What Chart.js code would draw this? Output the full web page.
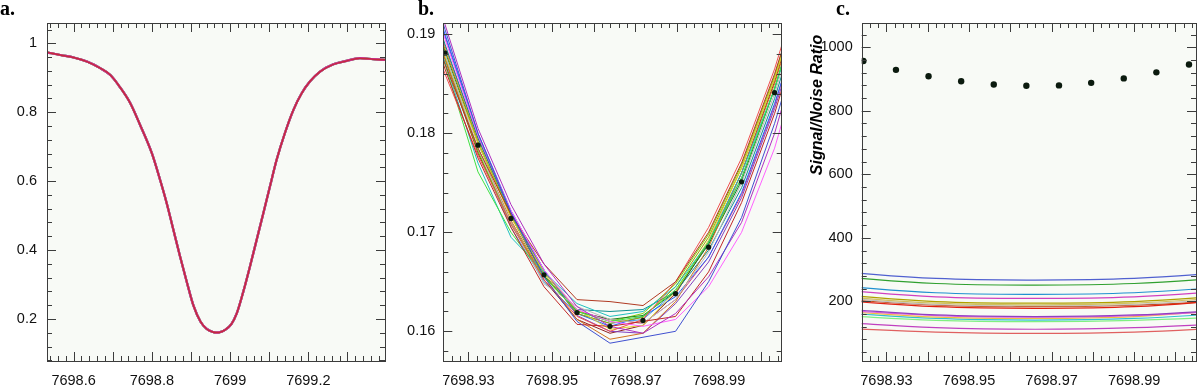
<!DOCTYPE html>
<html>
<head>
<meta charset="utf-8">
<script src="https://cdn.jsdelivr.net/npm/chart.js@4.4.0/dist/chart.umd.min.js"></script>
<style>
  html, body { margin: 0; padding: 0; background: #fff; }
  #wrap { position: relative; width: 1200px; height: 387px; overflow: hidden; }
  .panel { position: absolute; top: 0; width: 400px; height: 387px; }
  .tag { position: absolute; top: -2px; font: bold 20px "Liberation Serif", serif; line-height: 20px; color: #000; }
</style>
</head>
<body>
<div id="wrap">
  <div class="panel" style="left:0"><canvas id="chartA" width="400" height="387"></canvas></div>
  <div class="panel" style="left:400px"><canvas id="chartB" width="400" height="387"></canvas></div>
  <div class="panel" style="left:800px"><canvas id="chartC" width="400" height="387"></canvas></div>
  <div class="tag" style="left:0">a.</div>
  <div class="tag" style="left:418px">b.</div>
  <div class="tag" style="left:836px">c.</div>
</div>
<script>
// ---- panel a: full line profile ----
const waveA = [7698.532, 7698.566, 7698.600, 7698.634, 7698.668, 7698.694, 7698.719, 7698.745, 7698.770, 7698.800,
               7698.821, 7698.838, 7698.855, 7698.872, 7698.889, 7698.906, 7698.9245, 7698.9402, 7698.9560, 7698.9639,
               7698.9718, 7698.9875, 7699.0033, 7699.017, 7699.034, 7699.051, 7699.068, 7699.085, 7699.102, 7699.119,
               7699.140, 7699.162, 7699.183, 7699.204, 7699.230, 7699.264, 7699.298, 7699.332, 7699.366, 7699.396];
const fluxA = [0.974, 0.966, 0.959, 0.947, 0.928, 0.908, 0.872, 0.826, 0.763, 0.681,
               0.604, 0.536, 0.459, 0.382, 0.309, 0.240, 0.192, 0.171, 0.162, 0.1605,
               0.161, 0.1685, 0.185, 0.216, 0.280, 0.353, 0.430, 0.507, 0.585, 0.662,
               0.739, 0.807, 0.855, 0.889, 0.918, 0.939, 0.949, 0.957, 0.954, 0.952];
const colorsA = ['#c42a3a', '#d030d0', '#e0a020', '#2fa040', '#3050e0'];
const xTicksA = [7698.6, 7698.8, 7699, 7699.2];
const yTicksA = [0.2, 0.4, 0.6, 0.8, 1];

// ---- panel b: core of the line, one curve per exposure ----
const waveB = [7698.9165, 7698.9244, 7698.9323, 7698.9402, 7698.9481, 7698.9560, 7698.9639,
               7698.9718, 7698.9796, 7698.9875, 7698.9954, 7699.0033, 7699.0112];
const fluxB = [
  [0.2010, 0.1905, 0.1800, 0.1720, 0.1655, 0.1610, 0.1588, 0.1594, 0.1600, 0.1650, 0.1715, 0.1810, 0.1920],
  [0.2015, 0.1910, 0.1805, 0.1728, 0.1668, 0.1625, 0.1605, 0.1598, 0.1618, 0.1655, 0.1710, 0.1800, 0.1915],
  [0.2000, 0.1895, 0.1798, 0.1722, 0.1662, 0.1622, 0.1610, 0.1605, 0.1612, 0.1645, 0.1700, 0.1785, 0.1900],
  [0.1960, 0.1870, 0.1785, 0.1718, 0.1668, 0.1632, 0.1630, 0.1626, 0.1650, 0.1700, 0.1770, 0.1860, 0.1965],
  [0.1970, 0.1865, 0.1775, 0.1705, 0.1645, 0.1607, 0.1605, 0.1610, 0.1615, 0.1660, 0.1730, 0.1820, 0.1930],
  [0.1950, 0.1860, 0.1778, 0.1708, 0.1652, 0.1615, 0.1600, 0.1612, 0.1650, 0.1705, 0.1775, 0.1865, 0.1975],
  [0.1955, 0.1870, 0.1761, 0.1700, 0.1655, 0.1620, 0.1610, 0.1615, 0.1642, 0.1690, 0.1755, 0.1845, 0.1955],
  [0.1960, 0.1872, 0.1770, 0.1695, 0.1660, 0.1628, 0.1615, 0.1620, 0.1645, 0.1690, 0.1760, 0.1845, 0.1950],
  [0.1980, 0.1880, 0.1785, 0.1710, 0.1648, 0.1625, 0.1612, 0.1608, 0.1632, 0.1680, 0.1750, 0.1840, 0.1950],
  [0.1965, 0.1875, 0.1785, 0.1712, 0.1655, 0.1612, 0.1592, 0.1598, 0.1630, 0.1685, 0.1760, 0.1850, 0.1960],
  [0.1975, 0.1878, 0.1790, 0.1715, 0.1660, 0.1622, 0.1602, 0.1606, 0.1640, 0.1692, 0.1765, 0.1855, 0.1965],
  [0.1990, 0.1885, 0.1792, 0.1716, 0.1658, 0.1618, 0.1608, 0.1614, 0.1645, 0.1695, 0.1765, 0.1855, 0.1962],
  [0.1985, 0.1883, 0.1790, 0.1716, 0.1656, 0.1620, 0.1612, 0.1616, 0.1640, 0.1688, 0.1752, 0.1845, 0.1955],
  [0.1995, 0.1890, 0.1795, 0.1718, 0.1660, 0.1622, 0.1620, 0.1622, 0.1640, 0.1682, 0.1745, 0.1835, 0.1945],
  [0.2005, 0.1900, 0.1800, 0.1722, 0.1662, 0.1618, 0.1605, 0.1615, 0.1635, 0.1675, 0.1740, 0.1830, 0.1935],
  [0.2000, 0.1898, 0.1798, 0.1720, 0.1662, 0.1616, 0.1600, 0.1598, 0.1628, 0.1670, 0.1735, 0.1825, 0.1930],
  [0.1970, 0.1876, 0.1782, 0.1708, 0.1655, 0.1621, 0.1610, 0.1618, 0.1648, 0.1698, 0.1768, 0.1858, 0.1968],
  [0.1990, 0.1888, 0.1795, 0.1720, 0.1660, 0.1620, 0.1612, 0.1608, 0.1632, 0.1675, 0.1738, 0.1828, 0.1940],
  [0.1975, 0.1875, 0.1780, 0.1710, 0.1652, 0.1612, 0.1598, 0.1606, 0.1638, 0.1690, 0.1760, 0.1852, 0.1962],
  [0.1980, 0.1880, 0.1782, 0.1705, 0.1650, 0.1618, 0.1608, 0.1612, 0.1640, 0.1688, 0.1755, 0.1845, 0.1955]
];
const colorsB = ['#4050d0', '#b030c0', '#ff60ff', '#b03a22', '#c02828', '#f05050', '#40e040', '#20c0c0',
                 '#b8b8b8', '#d07020', '#e0d030', '#a0a000', '#208020', '#109090', '#2060ff', '#8040c0',
                 '#80d000', '#e04080', '#902020', '#40a0e0'];
// mean spectrum (black dots)
const waveMean = [7698.9244, 7698.9323, 7698.9402, 7698.9481, 7698.9560, 7698.9639,
                  7698.9718, 7698.9796, 7698.9875, 7698.9954, 7699.0033];
const fluxMean = [0.1881, 0.1788, 0.1714, 0.1657, 0.1619, 0.1605, 0.1611, 0.1638, 0.1685, 0.1751, 0.1841];
const xTicksB = [7698.93, 7698.95, 7698.97, 7698.99];
const yTicksB = [0.16, 0.17, 0.18, 0.19];

// ---- panel c: signal/noise ----
const waveSN = [7698.918, 7698.942, 7698.966, 7698.990, 7699.014];
const snLines = [
  [294, 272, 267, 272, 292],
  [278, 256, 251, 256, 276],
  [249, 227, 222, 227, 247],
  [236, 214, 209, 214, 234],
  [221, 199, 194, 199, 219],
  [216, 194, 189, 194, 214],
  [212, 190, 186, 190, 210],
  [203, 183, 178, 183, 205],
  [207, 188, 183, 188, 203],
  [177, 157, 152, 157, 174],
  [173, 155, 150, 155, 171],
  [170, 150, 146, 152, 174],
  [165, 146, 141, 146, 163],
  [156, 140, 136, 140, 152],
  [134, 117, 112, 117, 131],
  [116, 103, 99, 103, 118]
];
const colorsC = ['#5060d0', '#30a030', '#2090d0', '#d040c0', '#b0a000', '#d0c060', '#c0c0c0', '#e02010',
                 '#c05020', '#9040c0', '#e060e0', '#f0c040', '#30c0d0', '#80f080', '#c040c0', '#e06060'];
const snMean = [957, 929, 909, 893, 883, 879, 880, 888, 902, 921, 946];
const xTicksC = [7698.93, 7698.95, 7698.97, 7698.99];
const yTicksC = [200, 400, 600, 800, 1000];

// ---------------------------------------------
const TICK_FONT = { family: '"Liberation Sans", Arial, sans-serif', size: 14.5 };

function pts(xs, ys) {
  return xs.map((x, i) => ({ x: x, y: ys[i] }));
}

function tickMarks(scale, step) {
  const out = [];
  const k0 = Math.ceil(scale.min / step - 1e-6);
  const k1 = Math.floor(scale.max / step + 1e-6);
  for (let k = k0; k <= k1; k++) out.push([k * step, k % 5 === 0]);
  return out;
}

// plot background, frame and inward ticks on all four sides
const framePlugin = {
  id: 'frame',
  beforeDraw(chart) {
    const { ctx, chartArea: a } = chart;
    ctx.save();
    ctx.fillStyle = '#f8faf6';
    ctx.fillRect(a.left, a.top, a.right - a.left, a.bottom - a.top);
    ctx.restore();
  },
  afterDraw(chart, args, opts) {
    const { ctx, chartArea: a, scales } = chart;
    ctx.save();
    ctx.strokeStyle = '#3c3c3c';
    ctx.lineWidth = 1;
    ctx.beginPath();
    tickMarks(scales.x, opts.xMinor).forEach(([v, long]) => {
      const p = Math.round(scales.x.getPixelForValue(v)) + 0.5;
      const len = long ? 9 : 5;
      ctx.moveTo(p, a.bottom); ctx.lineTo(p, a.bottom - len);
      ctx.moveTo(p, a.top); ctx.lineTo(p, a.top + len);
    });
    tickMarks(scales.y, opts.yMinor).forEach(([v, long]) => {
      const p = Math.round(scales.y.getPixelForValue(v)) + 0.5;
      const len = long ? 9 : 5;
      ctx.moveTo(a.left, p); ctx.lineTo(a.left + len, p);
      ctx.moveTo(a.right, p); ctx.lineTo(a.right - len, p);
    });
    ctx.stroke();
    ctx.strokeRect(Math.round(a.left) + 0.5, Math.round(a.top) + 0.5,
                   Math.round(a.right - a.left), Math.round(a.bottom - a.top));
    if (opts.title) {
      ctx.translate(opts.title.x, opts.title.y);
      ctx.rotate(-Math.PI / 2);
      ctx.font = 'italic bold 16px "Liberation Sans", Arial, sans-serif';
      ctx.fillStyle = '#000';
      ctx.textAlign = 'center';
      ctx.textBaseline = 'alphabetic';
      ctx.fillText(opts.title.text, 0, 0);
    }
    ctx.restore();
  }
};

function makePanel(id, cfg) {
  return new Chart(document.getElementById(id), {
    type: 'scatter',
    data: { datasets: cfg.datasets },
    options: {
      responsive: false,
      animation: false,
      layout: { padding: { left: 0, right: cfg.padRight, top: 23, bottom: 0 } },
      plugins: {
        legend: { display: false },
        tooltip: { enabled: false },
        frame: cfg.frame
      },
      scales: {
        x: {
          type: 'linear',
          min: cfg.xMin, max: cfg.xMax,
          grid: { display: false, drawTicks: false },
          border: { display: false },
          afterBuildTicks: s => { s.ticks = cfg.xTicks.map(v => ({ value: v })); },
          afterFit: s => { s.height = 26; },
          ticks: { padding: 11, font: TICK_FONT, color: '#111', autoSkip: false, maxRotation: 0,
                   callback: v => String(v) }
        },
        y: {
          type: 'linear',
          min: cfg.yMin, max: cfg.yMax,
          grid: { display: false, drawTicks: false },
          border: { display: false },
          afterBuildTicks: s => { s.ticks = cfg.yTicks.map(v => ({ value: v })); },
          afterFit: s => { s.width = cfg.yWidth; },
          ticks: { padding: cfg.yPad, font: TICK_FONT, color: '#111', autoSkip: false,
                   callback: v => String(v) }
        }
      }
    },
    plugins: [framePlugin]
  });
}

function lineSet(xs, ys, color, width, smooth) {
  const ds = { data: pts(xs, ys), showLine: true, borderColor: color, borderWidth: width,
               pointRadius: 0, fill: false, clip: 0, tension: 0 };
  if (smooth === 'monotone') ds.cubicInterpolationMode = 'monotone';
  else ds.tension = smooth;
  return ds;
}

function dotSet(xs, ys, r) {
  return { data: pts(xs, ys), showLine: false, pointRadius: r, pointBackgroundColor: '#0b1a0e',
           pointBorderColor: '#0b1a0e', pointBorderWidth: 0 };
}

// a.
makePanel('chartA', {
  datasets: colorsA.map((c, i) => lineSet(waveA, fluxA, c, i === 0 ? 1.5 : 2.2, 'monotone')),
  xMin: 7698.532, xMax: 7699.396, yMin: 0.078, yMax: 1.059,
  xTicks: xTicksA, yTicks: yTicksA, yWidth: 47, yPad: 10, padRight: 15,
  frame: { xMinor: 0.02, yMinor: 0.04 }
});

// b.
makePanel('chartB', {
  datasets: [dotSet(waveMean, fluxMean, 2.6)].concat(
    fluxB.map((ys, i) => lineSet(waveB, ys, colorsB[i], 1, 0))),
  xMin: 7698.924, xMax: 7699.005, yMin: 0.157, yMax: 0.19114,
  xTicks: xTicksB, yTicks: yTicksB, yWidth: 43.3, yPad: 8, padRight: 18.3,
  frame: { xMinor: 0.002, yMinor: 0.002 }
});

// c.
makePanel('chartC', {
  datasets: [dotSet(waveMean, snMean, 3.2)].concat(
    snLines.map((ys, i) => lineSet(waveSN, ys, colorsC[i], 1.2, 0.4))),
  xMin: 7698.924, xMax: 7699.005, yMin: 12, yMax: 1076.5,
  xTicks: xTicksC, yTicks: yTicksC, yWidth: 61.7, yPad: 9, padRight: 1,
  frame: { xMinor: 0.002, yMinor: 40, title: { text: 'Signal/Noise Ratio', x: 22, y: 105 } }
});
</script>
</body>
</html>
